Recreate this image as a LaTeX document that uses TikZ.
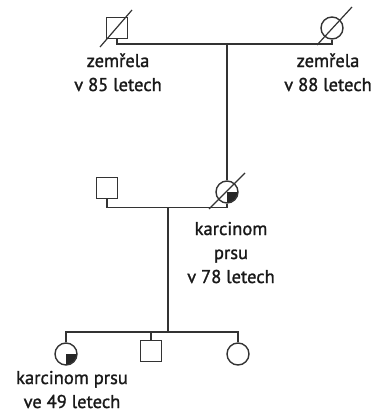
\documentclass[tikz,border=0pt]{standalone}
\usepackage{fontspec}
\setmainfont{PT Sans}
\newfontfamily\lblfont{PT Sans}[FakeBold=1.3]
\begin{document}
\begin{tikzpicture}[x=1pt,y=-1pt,
  lw/.style={line width=1.4pt, draw=black!80},
  male/.style={lw, rectangle, minimum size=21pt, inner sep=0pt},
  female/.style={lw, circle, minimum size=22pt, inner sep=0pt},
  conn/.style={line width=1.4pt, draw=black!80},
  slash/.style={line width=1.2pt, draw=black!80},
  lbl/.style={align=center, font=\lblfont\fontsize{18.5}{24}\selectfont, text=black!90, inner sep=0pt}
]
\useasboundingbox (0,0) rectangle (377,412);
% generation 1
\node[male] (gf) at (117,28) {};
\node[female] (gm) at (332,28) {};
\draw[conn] (gf.south) -- ++(0,5) coordinate (m1) -| (gm.south);
\coordinate (c1) at (227,43);
\draw[slash] ([shift={(-17,19)}]gf.center) -- ([shift={(15,-18)}]gf.center);
\draw[slash] ([shift={(-15,17)}]gm.center) -- ([shift={(20,-21)}]gm.center);
\node[lbl, anchor=base] (t1) at (118,91) {zemřela\\v 85 letech};
\node[lbl, anchor=base] (t2) at (328,91) {zemřela\\v 88 letech};
% generation 2
\node[male] (f2) at (107,188) {};
\node[female] (mo) at (227,192) {};
\begin{scope}
\clip (mo.center) circle[radius=10.5];
\fill[black!85] (mo.center) rectangle ++(12,12);
\end{scope}
\draw[conn] (c1) -- (mo.north);
\draw[conn] (f2.south) -- ++(0,8) coordinate (m2) -| (mo.south);
\draw[slash] ([shift={(-18,17)}]mo.center) -- ([shift={(18,-19)}]mo.center);
\node[lbl, anchor=base] (t3) at (231,283) {karcinom\\prsu\\v 78 letech};
\coordinate (c2) at (168,207);
% generation 3
\coordinate (s) at (168,332);
\node[female] (d1) at (66,354) {};
\begin{scope}
\clip (d1.center) circle[radius=10.5];
\fill[black!85] (d1.center) rectangle ++(12,12);
\end{scope}
\node[male] (s1) at (151,351) {};
\node[female] (d2) at (238,354) {};
\draw[conn] (c2) -- (s);
\draw[conn] (d1.north) |- (s) -| (d2.north);
\draw[conn] (s1.north) -- (s1.north |- s);
\node[lbl, anchor=base] (t4) at (72,408) {karcinom prsu\\ve 49 letech};
\end{tikzpicture}
\end{document}
